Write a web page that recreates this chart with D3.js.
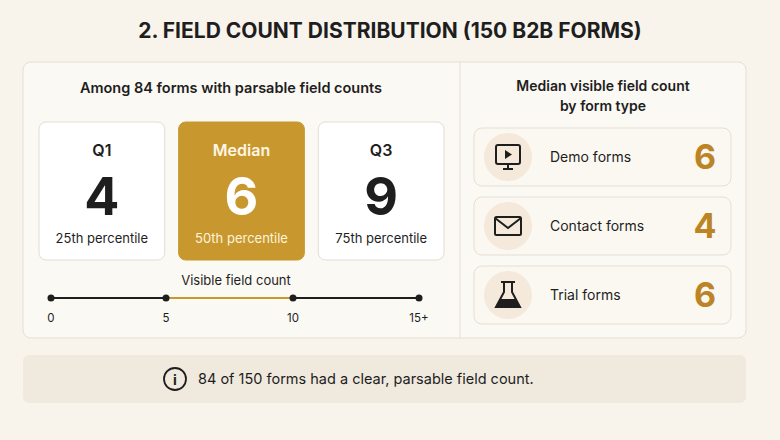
<!DOCTYPE html>
<html><head><meta charset="utf-8">
<script src="https://cdn.jsdelivr.net/npm/d3@7/dist/d3.min.js"></script>
<style>body{margin:0;background:#F8F4EC}text{font-family:Inter,"Noto Sans",sans-serif}</style>
</head><body><svg id="c" width="780" height="440"></svg>
<script>
const quartiles = ["Q1","Median","Q3"];
const quartileValues = [4,6,9];
const quartileSubs = ["25th percentile","50th percentile","75th percentile"];
const axisTicks = [0,5,10,15];
const axisLabels = ["0","5","10","15+"];
const formTypes = ["Demo forms","Contact forms","Trial forms"];
const formMedians = [6,4,6];
const gold = "#C8982F", goldText = "#BC8424", dark = "#1E1E1E";
const svg = d3.select("#c");
svg.append("rect").attr("width",780).attr("height",440).attr("fill","#F8F4EC");
svg.append("text").attr("x",390).attr("y",38).attr("text-anchor","middle").attr("font-size",21).attr("font-weight",700).attr("fill",dark).text("2. FIELD COUNT DISTRIBUTION (150 B2B FORMS)");
svg.append("rect").attr("x",23).attr("y",62).attr("width",723).attr("height",276).attr("rx",8).attr("fill","#FBF9F4").attr("stroke","#E6DFD2");
svg.append("line").attr("x1",460).attr("x2",460).attr("y1",62).attr("y2",338).attr("stroke","#E6DFD2");
svg.append("text").attr("x",231).attr("y",93).attr("text-anchor","middle").attr("font-size",14.5).attr("font-weight",600).attr("fill",dark).text("Among 84 forms with parsable field counts");
const bx = d3.scaleBand().domain(quartiles).range([39,444]).paddingInner(0.1);
const g = svg.selectAll(".q").data(quartiles).join("g").attr("transform",d=>`translate(${bx(d)},122)`);
g.append("rect").attr("width",bx.bandwidth()).attr("height",138).attr("rx",7)
 .attr("fill",(d,i)=>i==1?gold:"#FFFFFF").attr("stroke",(d,i)=>i==1?gold:"#E3DDD2");
const tc=(i)=>i==1?"#FFFFFF":dark;
g.append("text").attr("x",bx.bandwidth()/2).attr("y",34).attr("text-anchor","middle").attr("font-size",16).attr("font-weight",600).attr("fill",(d,i)=>i==1?"#FFF6E4":dark).text(d=>d);
g.append("text").attr("x",bx.bandwidth()/2).attr("y",93).attr("text-anchor","middle").attr("font-size",52).attr("font-weight",700).attr("fill",(d,i)=>tc(i)).text((d,i)=>quartileValues[i]);
g.append("text").attr("x",bx.bandwidth()/2).attr("y",121).attr("text-anchor","middle").attr("font-size",13).attr("fill",(d,i)=>i==1?"#FFF3DC":dark).text((d,i)=>quartileSubs[i]);
svg.append("text").attr("x",236).attr("y",285).attr("text-anchor","middle").attr("font-size",13).attr("fill",dark).text("Visible field count");
const x = d3.scaleLinear().domain(axisTicks).range([51,166,293,419]);
svg.append("line").attr("x1",x(0)).attr("x2",x(15)).attr("y1",298).attr("y2",298).attr("stroke",dark).attr("stroke-width",2);
svg.append("line").attr("x1",x(5)).attr("x2",x(10)).attr("y1",298).attr("y2",298).attr("stroke",gold).attr("stroke-width",2);
svg.selectAll(".dot").data(axisTicks).join("circle").attr("cx",d=>x(d)).attr("cy",298).attr("r",3.5).attr("fill",dark);
svg.selectAll(".tl").data(axisTicks).join("text").attr("x",d=>x(d)).attr("y",322).attr("text-anchor","middle").attr("font-size",11.5).attr("fill",dark).text((d,i)=>axisLabels[i]);
svg.append("text").attr("x",603).attr("y",91).attr("text-anchor","middle").attr("font-size",14).attr("font-weight",600).attr("fill",dark).text("Median visible field count");
svg.append("text").attr("x",603).attr("y",111).attr("text-anchor","middle").attr("font-size",14).attr("font-weight",600).attr("fill",dark).text("by form type");
const y = d3.scaleBand().domain(formTypes).range([128,324]).paddingInner(0.16);
const r = svg.selectAll(".r").data(formTypes).join("g").attr("transform",d=>`translate(474,${y(d)})`);
r.append("rect").attr("width",257).attr("height",y.bandwidth()).attr("rx",8).attr("fill","#FBF8F2").attr("stroke","#E6DFD2");
r.append("circle").attr("cx",34).attr("cy",y.bandwidth()/2).attr("r",24).attr("fill","#F4E9DA");
r.append("text").attr("x",76).attr("y",y.bandwidth()/2+5).attr("font-size",14).attr("fill",dark).text(d=>d);
r.append("text").attr("x",231).attr("y",y.bandwidth()/2+12).attr("text-anchor","middle").attr("font-size",34).attr("font-weight",700).attr("fill",goldText).text((d,i)=>formMedians[i]);
const cy=y.bandwidth()/2;
const i0=d3.select(r.nodes()[0]);
i0.append("rect").attr("x",22).attr("y",cy-12).attr("width",24).attr("height",19).attr("rx",2).attr("fill","none").attr("stroke",dark).attr("stroke-width",2);
i0.append("path").attr("d",`M31,${cy-7}L38,${cy-2.5}L31,${cy+2}Z`).attr("fill",dark);
i0.append("path").attr("d",`M34,${cy+7}V${cy+11}M29,${cy+12}H39`).attr("stroke",dark).attr("stroke-width",2);
const i1=d3.select(r.nodes()[1]);
i1.append("rect").attr("x",21).attr("y",cy-9).attr("width",26).attr("height",18).attr("rx",1.5).attr("fill","none").attr("stroke",dark).attr("stroke-width",2);
i1.append("path").attr("d",`M21,${cy-8}L34,${cy+2}L47,${cy-8}`).attr("fill","none").attr("stroke",dark).attr("stroke-width",2);
const i2=d3.select(r.nodes()[2]);
i2.append("path").attr("d",`M30,${cy-13}V${cy-3}L22,${cy+12}H46L38,${cy-3}V${cy-13}M27,${cy-13}H41`).attr("fill","none").attr("stroke",dark).attr("stroke-width",2);
i2.append("path").attr("d",`M26,${cy+4}H42L46,${cy+12}H22Z`).attr("fill",dark);
svg.append("rect").attr("x",23).attr("y",355).attr("width",723).attr("height",48).attr("rx",6).attr("fill","#F0E9DD");
svg.append("circle").attr("cx",175).attr("cy",379).attr("r",11).attr("fill","none").attr("stroke",dark).attr("stroke-width",1.8);
svg.append("text").attr("x",175).attr("y",384.5).attr("text-anchor","middle").attr("font-size",14).attr("font-weight",700).attr("fill",dark).attr("font-family","DejaVu Serif").text("i");
svg.append("text").attr("x",198).attr("y",384).attr("font-size",14.5).attr("fill",dark).text("84 of 150 forms had a clear, parsable field count.");
</script></body></html>
